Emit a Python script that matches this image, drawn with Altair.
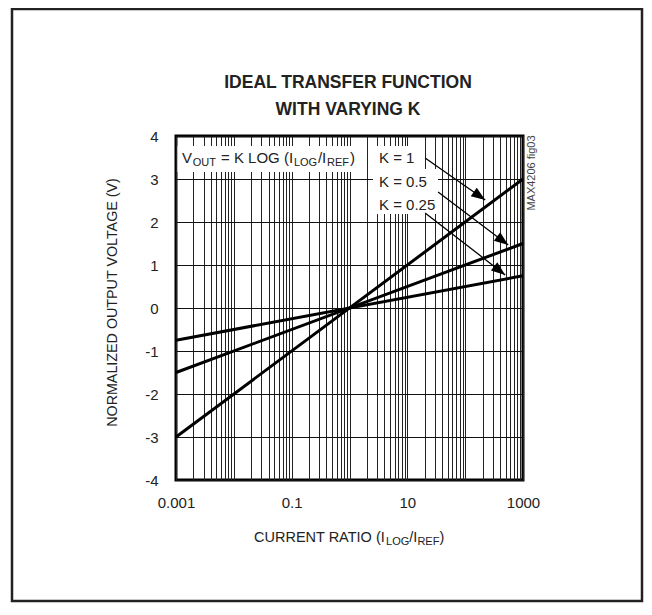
import math
import altair as alt
import pandas as pd

# ---------------- data ----------------
ratio_ends = [0.001, 1000]
k_names = ["K = 1", "K = 0.5", "K = 0.25"]
v_k1 = [-3, 3]
v_k05 = [-1.5, 1.5]
v_k025 = [-0.75, 0.75]

y_ticks = [-4, -3, -2, -1, 0, 1, 2, 3, 4]
x_grid = [round(m * 10.0 ** e, 6) for e in range(-3, 3) for m in range(1, 10)] + [1000]

arrow_x_start = [20.3, 34, 20.3]
arrow_y_start = [3.49, 2.70, 2.21]
arrow_x_end = [222, 555, 492]
arrow_y_end = [2.51, 1.465, 0.77]

# ---------------- layout ----------------
W, H = 347, 344
PAD_L, PAD_T = 168, 128
TOT_W, TOT_H = 636, 595
FONT = "Liberation Sans, Arial, sans-serif"
INK = "#222222"

one = pd.DataFrame({"a": [0]})

lines_df = pd.DataFrame({
    "ratio": ratio_ends * 3,
    "volt": v_k1 + v_k05 + v_k025,
    "K": [k_names[0]] * 2 + [k_names[1]] * 2 + [k_names[2]] * 2,
})


def px(x):
    return (math.log10(x) + 3) / 6 * W


def py(y):
    return (4 - y) / 8 * H


angles = []
for xs, ys, xe, ye in zip(arrow_x_start, arrow_y_start, arrow_x_end, arrow_y_end):
    dx = px(xe) - px(xs)
    dy = py(ye) - py(ys)
    angles.append(math.degrees(math.atan2(dx, -dy)) % 360)

arrows_df = pd.DataFrame({
    "ratio": arrow_x_start, "volt": arrow_y_start,
    "ratio_end": arrow_x_end, "volt_end": arrow_y_end, "ang": angles,
})

x_scale = alt.Scale(type="log", domain=[0.001, 1000], nice=False)
y_scale = alt.Scale(domain=[-4, 4], nice=False)

label_expr = ("datum.value == 0.001 ? '0.001' : datum.value == 0.1 ? '0.1' : "
              "datum.value == 10 ? '10' : datum.value == 1000 ? '1000' : ''")

x_axis = alt.Axis(values=x_grid, labelExpr=label_expr, grid=True, ticks=False, tickSize=0,
                  domain=False, title=None, labelPadding=15, labelFontSize=15, labelFont=FONT,
                  labelColor=INK, gridColor="#222222", gridWidth=1, labelOverlap=False,
                  labelFlush=False, labelBound=False)
y_axis = alt.Axis(values=y_ticks, labelExpr="'' + datum.value", grid=True, ticks=False,
                  tickSize=0, domain=False, title=None, labelPadding=18, labelFontSize=15,
                  labelFont=FONT, labelColor=INK, gridColor="#111111", gridWidth=1.2,
                  labelOverlap=False, labelFlush=False, labelBound=False)

# Liberation Sans (Arial-metric) advance widths, per 1000 em
HW = {'A': 667, 'B': 667, 'C': 722, 'D': 722, 'E': 667, 'F': 611, 'G': 778, 'H': 722, 'I': 278,
      'K': 667, 'L': 556, 'M': 833, 'N': 722, 'O': 778, 'P': 667, 'R': 722, 'S': 667, 'T': 611,
      'U': 722, 'V': 667, 'X': 667, 'Z': 611, ' ': 278, '=': 584, '(': 333, ')': 333, '/': 278,
      '.': 278}


def cw(c):
    return HW.get(c, 556)


def txt(s, x, y, size=14.5, align="left", weight="normal", angle=0, color=INK, font=FONT,
        baseline="alphabetic"):
    kw = dict(text=s, align=align, baseline=baseline, fontSize=size, font=font,
              fontWeight=weight, color=color)
    if angle:
        kw["angle"] = angle
    return alt.Chart(one).mark_text(**kw).encode(x=alt.value(x), y=alt.value(y))


def seg_text(segs, x0, base, gap=0.0):
    out = []
    x = x0
    for s, fs, sub in segs:
        lead = len(s) - len(s.lstrip(" "))
        x += lead * cw(" ") * fs / 1000
        body = s.strip(" ")
        out.append(txt(body, x, base + (3 if sub else 0), fs))
        x += sum(cw(c) for c in s[lead:]) * fs / 1000 + gap
    return out


def rect(x1, y1, x2, y2, fill="white", stroke=None, sw=0):
    kw = dict(fill=fill)
    if stroke:
        kw.update(stroke=stroke, strokeWidth=sw)
    return alt.Chart(one).mark_rect(**kw).encode(
        x=alt.value(x1), x2=alt.value(x2), y=alt.value(y1), y2=alt.value(y2))


# ---------------- layers ----------------
lines = alt.Chart(lines_df).mark_line(color="black", strokeWidth=3).encode(
    x=alt.X("ratio:Q", scale=x_scale, axis=x_axis),
    y=alt.Y("volt:Q", scale=y_scale, axis=y_axis),
    detail="K:N",
)

arrow_lines = alt.Chart(arrows_df).mark_rule(color="black", strokeWidth=1.3).encode(
    x=alt.X("ratio:Q", scale=x_scale, axis=x_axis), x2="ratio_end:Q",
    y=alt.Y("volt:Q", scale=y_scale, axis=y_axis), y2="volt_end:Q",
)
arrow_heads = alt.Chart(arrows_df).mark_point(
    shape="M0,0 L-0.75,2 L0.75,2 Z", filled=True, color="black", size=196, opacity=1
).encode(
    x=alt.X("ratio_end:Q", scale=x_scale, axis=x_axis),
    y=alt.Y("volt_end:Q", scale=y_scale, axis=y_axis),
    angle=alt.Angle("ang:Q", scale=None),
)

boxes = [
    rect(1.5, 10, 188, 36),
    rect(197, 10, 243, 33),
    rect(197, 33, 262, 78),
]

texts = []
texts.append(txt("IDEAL TRANSFER FUNCTION", 172, -48, 17.5, align="center", weight="bold"))
texts.append(txt("WITH VARYING K", 172, -21, 17.5, align="center", weight="bold"))
texts += seg_text([("V", 15, False), ("OUT", 11, True), (" = K LOG (I", 15, False),
                   ("LOG", 11, True), ("/I", 15, False), ("REF", 11, True), (")", 15, False)],
                  6, 27, gap=0.8)
for name, base in zip(k_names, [27, 51, 74]):
    texts.append(txt(name, 203, base, 15))
texts += seg_text([("CURRENT RATIO (I", 14.5, False), ("LOG", 11, True), ("/I", 14.5, False),
                   ("REF", 11, True), (")", 14.5, False)], 78, 406)
texts.append(txt("NORMALIZED OUTPUT VOLTAGE (V)", -59, 166.5, 14.3, align="center", angle=270))
texts.append(txt("MAX4206 fig03", 359, 37, 11, align="center", angle=270, color="#444444"))

border = rect(-164, -127, 466, 465, fill="transparent", stroke="#222222", sw=2.5)

chart = alt.layer(lines, *boxes, arrow_lines, arrow_heads, *texts, border).properties(
    width=W, height=H,
    autosize=alt.AutoSizeParams(type="none"),
    padding={"left": PAD_L, "top": PAD_T, "right": TOT_W - PAD_L - W, "bottom": TOT_H - PAD_T - H},
    background="white",
).configure_view(stroke="black", strokeWidth=3)

chart.save("out.html", embed_options={"renderer": "svg", "actions": False})
